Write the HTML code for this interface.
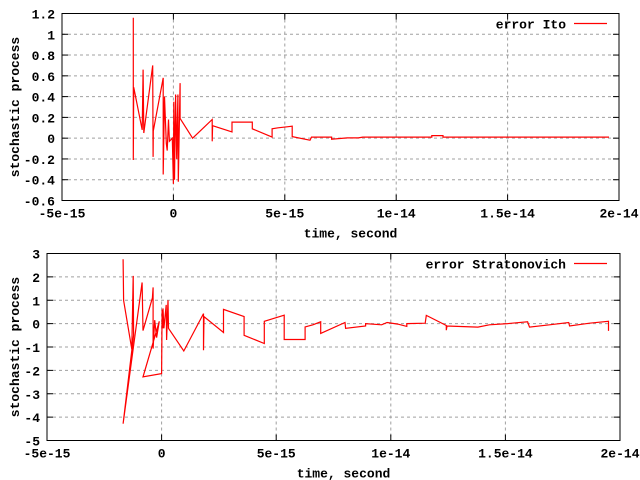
<!DOCTYPE html>
<html><head><meta charset="utf-8"><style>
body{margin:0;background:#fff}
svg{display:block}
text{font-family:"Liberation Mono",monospace;font-weight:bold;font-size:13px;fill:#000}
</style></head><body>
<svg id="c" width="640" height="480"></svg>
<script>
const xTicks=[-5,0,5,10,15,20];
const xTickLabels=["-5e-15","0","5e-15","1e-14","1.5e-14","2e-14"];
const ito1Ticks=[-0.6,-0.4,-0.2,0,0.2,0.4,0.6,0.8,1,1.2];
const ito1Labels=["-0.6","-0.4","-0.2","0","0.2","0.4","0.6","0.8","1","1.2"];
const strTicks=[-5,-4,-3,-2,-1,0,1,2,3];
const strLabels=["-5","-4","-3","-2","-1","0","1","2","3"];
const itoT=[-1.8,-1.8,-1.78,-1.4,-1.36,-1.33,-0.93,-0.91,-0.9,-0.46,-0.46,-0.4,-0.32,-0.28,-0.22,-0.18,-0.05,0.0,0.02,0.05,0.1,0.15,0.2,0.22,0.3,0.3,0.86,1.74,1.74,1.76,2.63,2.63,3.54,3.54,4.43,4.43,4.7,5.15,5.33,5.33,6.13,6.2,7.1,7.1,7.8,8.3,8.5,9.0,11.6,11.6,12.1,12.1,19.55];
const itoV=[1.16,-0.21,0.49,0.08,0.66,0.05,0.7,-0.18,0.07,0.58,-0.35,0.4,-0.05,-0.12,0.18,-0.03,0.0,-0.44,0.35,-0.4,0.42,-0.2,0.42,-0.42,0.53,0.19,0.0,0.18,-0.03,0.12,0.06,0.155,0.155,0.09,0.01,0.09,0.1,0.11,0.115,0.015,-0.02,0.01,0.01,-0.01,0.003,0.003,0.01,0.01,0.01,0.025,0.025,0.01,0.01];
const strT=[-1.68,-1.66,-1.3,-1.24,-1.22,-1.68,-0.85,-0.81,-0.4,-0.37,-0.37,-0.3,-0.22,-0.1,-0.81,0.0,0.02,0.06,0.06,0.1,0.2,0.22,0.28,0.3,0.97,1.83,1.83,1.85,2.7,2.7,3.6,3.6,4.48,4.48,5.35,5.35,6.26,6.26,6.6,6.94,6.94,8.0,8.03,8.9,8.9,9.6,9.84,10.3,10.7,10.7,11.5,11.55,12.42,12.42,12.45,13.8,14.3,15.1,15.97,16.05,16.93,17.76,17.8,18.67,19.5,19.5];
const strV=[2.75,1.0,-1.1,2.04,-0.5,-4.28,1.76,-0.3,1.1,1.55,-1.07,0.15,-0.6,0.1,-2.28,-2.14,0.6,-0.2,0.65,-0.2,0.8,-0.7,1.0,-0.2,-1.17,0.43,-1.14,0.3,-0.38,0.61,0.3,-0.5,-0.85,0.1,0.36,-0.68,-0.68,-0.14,-0.05,0.08,-0.42,0.05,-0.2,-0.1,0.0,-0.05,0.05,-0.02,-0.12,0.0,0.02,0.35,-0.08,-0.28,-0.1,-0.15,-0.05,0.0,0.08,-0.15,-0.05,0.05,-0.1,0.02,0.1,-0.31];
const NS="http://www.w3.org/2000/svg";
const svg=document.getElementById('c');
function mk(tag,attrs,parent){const e=document.createElementNS(NS,tag);for(const k in attrs)e.setAttribute(k,attrs[k]);(parent||svg).appendChild(e);return e;}
function panel(o){
  const g=mk('g',{});
  
  
  const sx=t=>o.L+(t-(-5))/(25)*(o.R-o.L);
  const sy=v=>o.B-(v-o.ymin)/(o.ymax-o.ymin)*(o.B-o.T);
  xTicks.forEach((t,i)=>{const x=sx(t);
    if(i>0&&i<xTicks.length-1){const l=mk('line',{x1:x,x2:x,y1:o.T,y2:o.B,stroke:'#a0a0a0','stroke-dasharray':'3,3'},g);}
    mk('line',{x1:x,x2:x,y1:o.B,y2:o.B-6,stroke:'#000'},g);mk('line',{x1:x,x2:x,y1:o.T,y2:o.T+6,stroke:'#000'},g);
    const tx=mk('text',{x:x,y:o.B+17,'text-anchor':'middle'},g);tx.textContent=xTickLabels[i];
    });
  o.ticks.forEach((v,i)=>{const y=sy(v);
    if(i>0&&i<o.ticks.length-1){const l=mk('line',{x1:o.L,x2:o.R,y1:y,y2:y,stroke:'#a0a0a0','stroke-dasharray':'3,3'},g);}
    mk('line',{x1:o.L,x2:o.L+6,y1:y,y2:y,stroke:'#000'},g);mk('line',{x1:o.R,x2:o.R-6,y1:y,y2:y,stroke:'#000'},g);
    const tx=mk('text',{x:o.L-7,y:y+5,'text-anchor':'end'},g);tx.textContent=o.labels[i];
    });
  const fr=mk('rect',{x:o.L,y:o.T,width:o.R-o.L,height:o.B-o.T,fill:'none',stroke:'#000'},g);
  
  const pts=o.t.map((t,i)=>sx(t).toFixed(1)+','+sy(o.v[i]).toFixed(1)).join(' ');
  const pl=mk('polyline',{points:pts,fill:'none',stroke:'#ff0000','stroke-width':1.2},g);
  
  const lt=mk('text',{x:566,y:o.T+15,'text-anchor':'end'},g);lt.textContent=o.legend;
  
  const ll=mk('line',{x1:574,x2:607,y1:o.T+10,y2:o.T+10,stroke:'#ff0000','stroke-width':1.2},g);
  
  const xl=mk('text',{x:(o.L+o.R)/2+10,y:o.B+37,'text-anchor':'middle'},g);xl.textContent='time, second';
  
  const cy=(o.T+o.B)/2;
  const yl=mk('text',{x:19,y:cy,'text-anchor':'middle',transform:'rotate(-90 19 '+cy+')'},g);yl.textContent='stochastic process';
  
}
panel({name:'ito-panel',L:62,R:619,T:13.5,B:200.5,ymin:-0.6,ymax:1.2,ticks:ito1Ticks,labels:ito1Labels,t:itoT,v:itoV,legend:'error Ito'});
panel({name:'stratonovich-panel',L:47,R:620,T:253.5,B:440.5,ymin:-5,ymax:3,ticks:strTicks,labels:strLabels,t:strT,v:strV,legend:'error Stratonovich'});
</script>
</body></html>
